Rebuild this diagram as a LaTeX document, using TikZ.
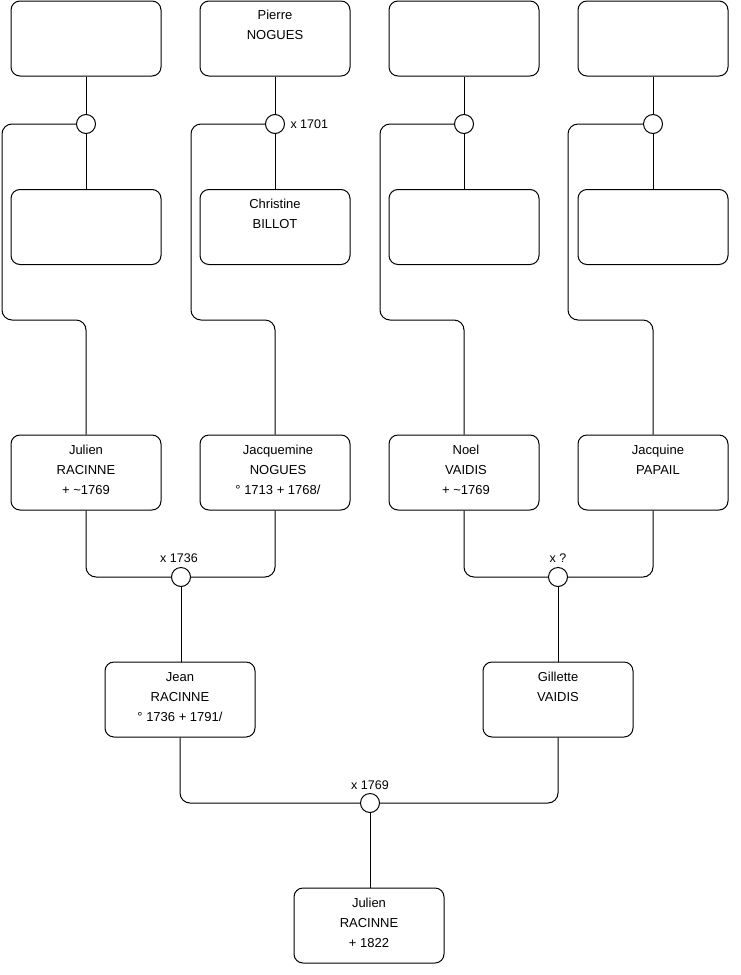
\documentclass[tikz,border=0pt]{standalone}
\usepackage{fontspec}
\setmainfont{Liberation Sans}
\begin{document}
\begin{tikzpicture}[x=1pt,y=-1pt,line width=1pt,
  box/.style={draw, rounded corners=9, minimum width=150, minimum height=75, inner sep=0},
  circ/.style={draw, circle, minimum size=19, inner sep=0, fill=white},
  txt/.style={align=center, anchor=north, inner sep=0, font=\fontsize{13}{20}\selectfont},
  lbl/.style={inner sep=0, font=\fontsize{12.5}{14}\selectfont},
  link/.style={rounded corners=10}]
\useasboundingbox (0,0) rectangle (740,975);

% top row boxes
\node[box] (g1) at (86,38.5) {};
\node[box] (g2) at (275,38.5) {};
\node[box] (g3) at (464,38.5) {};
\node[box] (g4) at (653,38.5) {};
% second row boxes
\node[box] (h1) at (86,227) {};
\node[box] (h2) at (275,227) {};
\node[box] (h3) at (464,227) {};
\node[box] (h4) at (653,227) {};
% third row
\node[box] (p1) at (86,472.5) {};
\node[box] (p2) at (275,472.5) {};
\node[box] (p3) at (464,472.5) {};
\node[box] (p4) at (653,472.5) {};
% fourth row
\node[box] (q1) at (180,699.5) {};
\node[box] (q2) at (558,699.5) {};
% bottom
\node[box] (r1) at (369,925.5) {};

% texts
\node[txt] (tg2) at ([yshift=-9.5pt]g2.north) {Pierre\\NOGUES};
\node[txt] (th2) at ([yshift=-10pt]h2.north) {Christine\\BILLOT};
\node[txt] (tp1) at ([yshift=-10.5pt]p1.north) {Julien\\RACINNE\\+ \textasciitilde1769};
\node[txt] (tp2) at ([xshift=3pt,yshift=-10.5pt]p2.north) {Jacquemine\\NOGUES\\° 1713 + 1768/};
\node[txt] (tp3) at ([xshift=2pt,yshift=-10.5pt]p3.north) {Noel\\VAIDIS\\+ \textasciitilde1769};
\node[txt] (tp4) at ([xshift=5pt,yshift=-10.5pt]p4.north) {Jacquine\\PAPAIL};
\node[txt] (tq1) at ([yshift=-10.5pt]q1.north) {Jean\\RACINNE\\° 1736 + 1791/};
\node[txt] (tq2) at ([yshift=-10.5pt]q2.north) {Gillette\\VAIDIS};
\node[txt] (tr1) at ([yshift=-10.5pt]r1.north) {Julien\\RACINNE\\+ 1822};

% union circles
\node[circ] (m1) at (86,124) {};
\node[circ] (m2) at (275,124) {};
\node[circ] (m3) at (464,124) {};
\node[circ] (m4) at (653,124) {};
\node[circ] (m5) at (181,577) {};
\node[circ] (m6) at (558,577) {};
\node[circ] (m7) at (370,803) {};

% labels
\node[lbl, anchor=west] (l2) at ([xshift=5pt]m2.east) {x 1701};
\node[lbl, anchor=base] (l5) at ([xshift=-2pt,yshift=5pt]m5.north) {x 1736};
\node[lbl, anchor=base] (l6) at ([yshift=5pt]m6.north) {x ?};
\node[lbl, anchor=base] (l7) at ([yshift=4pt]m7.north) {x 1769};

% top couples
\foreach \i in {1,2,3,4}{
  \draw (g\i.south) -- (m\i.north);
  \draw (m\i.south) -- (h\i.north);
}
% children of top couples
\draw[link] (m1.west) -- (2,124) -- (2,320) -- (86,320) -- (p1.north);
\draw[link] (m2.west) -- (191,124) -- (191,320) -- (275,320) -- (p2.north);
\draw[link] (m3.west) -- (380,124) -- (380,320) -- (464,320) -- (p3.north);
\draw[link] (m4.west) -- (568,124) -- (568,320) -- (653,320) -- (p4.north);

% third row couples
\draw[link] (p1.south) |- (m5.west);
\draw[link] (p2.south) |- (m5.east);
\draw[link] (p3.south) |- (m6.west);
\draw[link] (p4.south) |- (m6.east);
\draw (m5.south) -- (m5.south |- q1.north);
\draw (m6.south) -- (q2.north);

% fourth row couple
\draw[link] (q1.south) |- (m7.west);
\draw[link] (q2.south) |- (m7.east);
\draw (m7.south) -- (m7.south |- r1.north);
\end{tikzpicture}
\end{document}
